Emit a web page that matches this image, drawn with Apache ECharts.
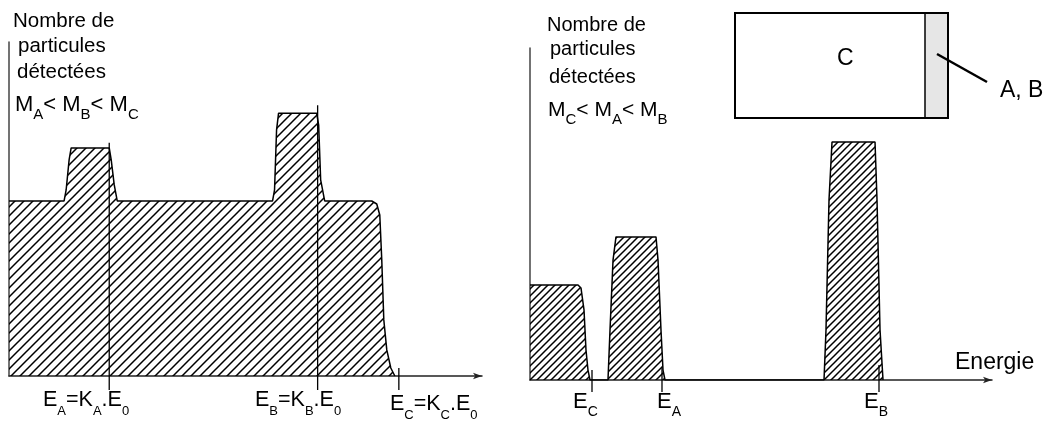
<!DOCTYPE html>
<html><head><meta charset="utf-8">
<script src="https://cdn.jsdelivr.net/npm/echarts@6/dist/echarts.min.js"></script>
<style>html,body{margin:0;background:#fff}#c{width:1051px;height:423px}</style>
</head><body><div id="c"></div>
<script>
// ---- data (arbitrary energy units 0..100, counts 0..100) ----
const leftEnergy = [0, 11.65, 12.08, 12.71, 13.14, 21.19, 21.61, 22.25, 22.88, 55.72, 56.14, 56.57, 56.99, 65.04, 65.47, 65.89, 66.74, 76.69, 77.75, 78.39, 78.81, 79.24, 79.87, 80.72, 81.57];
const leftCount  = [52.4, 52.4, 55.7, 64.7, 68.3, 68.3, 64.7, 57.2, 52.4, 52.4, 55.7, 73.7, 78.7, 78.7, 75.1, 58.7, 52.4, 52.4, 51.5, 48.2, 34.7, 16.8, 7.8, 2.4, 0];
const leftTickE   = [21.19, 65.25, 82.42];
const leftTickTop = [69.8, 81.1, 2.4];
const leftTickBottom = -4.2;

const rightEnergy = [0, 10.39, 11.04, 11.69, 12.12, 12.55, 12.99, 16.88, 17.32, 17.97, 18.61, 27.27, 27.71, 28.35, 28.79, 29.22, 63.64, 64.07, 64.72, 65.37, 74.68, 75.11, 75.76, 76.41];
const rightCount  = [28.6, 28.6, 27.7, 21.1, 9.0, 3.0, 0, 0, 15.1, 36.1, 43.1, 43.1, 36.1, 15.1, 3.0, 0, 0, 15.1, 54.2, 71.7, 71.7, 54.2, 15.1, 0];
const rightTickE   = [13.42, 28.57, 75.54];
const rightTickTop = [3.0, 3.9, 4.5];
const rightTickBottom = -3.6;

const FONT = "'Liberation Sans', Arial, sans-serif";

function hatch(step) {
  const c = document.createElement('canvas');
  c.width = step; c.height = step;
  const g = c.getContext('2d');
  g.strokeStyle = '#000'; g.lineWidth = 1.5; g.lineCap = 'butt';
  g.beginPath();
  g.moveTo(-1, step + 1); g.lineTo(step + 1, -1);
  g.moveTo(-1, 1); g.lineTo(1, -1);
  g.moveTo(step - 1, step + 1); g.lineTo(step + 1, step - 1);
  g.stroke();
  return { image: c, repeat: 'repeat' };
}

function pairs(xs, ys) { return xs.map((x, i) => [x, ys[i]]); }

function tickSeries(idx, xs, tops, bottom) {
  return xs.map((x, i) => ({
    type: 'line', xAxisIndex: idx, yAxisIndex: idx, clip: false, symbol: 'none',
    silent: true, z: 5,
    lineStyle: { color: '#000', width: 1.3 },
    data: [[x, bottom], [x, tops[i]]]
  }));
}

const mctx = document.createElement('canvas').getContext('2d');
function measure(t, size) { mctx.font = size + 'px ' + FONT; return mctx.measureText(t).width; }
function txt(x, cy, t, size) {
  return { type: 'text', x: x, y: cy, silent: true,
    style: { text: t, font: size + 'px ' + FONT, fill: '#000', align: 'left', verticalAlign: 'middle' } };
}
// parts alternate: main, sub, main, sub ...
function subLabel(x, cy, parts, main, sub, dy) {
  const els = []; let cx = x;
  parts.forEach((p, i) => {
    const isSub = i % 2 === 1, size = isSub ? sub : main;
    els.push(txt(cx, isSub ? cy + dy : cy, p, size));
    cx += measure(p, size);
  });
  return els;
}

const axisCommon = {
  type: 'value', min: 0, max: 100,
  axisTick: { show: false }, axisLabel: { show: false }, splitLine: { show: false }
};
const xLine = { lineStyle: { color: '#222', width: 1.5 }, symbol: ['none', 'arrow'], symbolSize: [5, 9] };
const yLine = { show: true, lineStyle: { color: '#444', width: 1.5 } };

const graphics = [
  txt(13, 21.5, 'Nombre de', 20.5), txt(18, 46, 'particules', 20.5), txt(17, 72, 'détectées', 20.5),
  txt(547, 25, 'Nombre de', 20), txt(550, 49, 'particules', 20), txt(549, 77, 'détectées', 20),
  txt(955, 363, 'Energie', 23),
  { type: 'rect', silent: true, shape: { x: 925, y: 13, width: 23, height: 105 }, style: { fill: '#e6e6e6', stroke: null } },
  { type: 'rect', silent: true, shape: { x: 735, y: 13, width: 213, height: 105 }, style: { fill: null, stroke: '#000', lineWidth: 2 } },
  { type: 'line', silent: true, shape: { x1: 925, y1: 13, x2: 925, y2: 118 }, style: { stroke: '#000', lineWidth: 1.5 } },
  { type: 'line', silent: true, shape: { x1: 937, y1: 54, x2: 987, y2: 82 }, style: { stroke: '#000', lineWidth: 2.5 } },
  txt(837, 59, 'C', 23),
  txt(1000, 91, 'A, B', 23)
].concat(
  subLabel(15, 105, ['M', 'A', '< M', 'B', '< M', 'C'], 22, 15, 9.5),
  subLabel(548, 110.5, ['M', 'C', '< M', 'A', '< M', 'B'], 21, 15, 9.5),
  subLabel(43, 400, ['E', 'A', '=K', 'A', '.E', '0'], 21.5, 13, 11),
  subLabel(255, 400, ['E', 'B', '=K', 'B', '.E', '0'], 21.5, 13, 11),
  subLabel(390, 404, ['E', 'C', '=K', 'C', '.E', '0'], 21.5, 13, 11),
  subLabel(573, 401.5, ['E', 'C'], 22, 14, 11),
  subLabel(657, 401.5, ['E', 'A'], 22, 14, 11),
  subLabel(864, 401.5, ['E', 'B'], 22, 14, 11)
);

const option = {
  animation: false,
  backgroundColor: '#fff',
  grid: [
    { left: 9, right: 569, top: 42, bottom: 47 },
    { left: 530, right: 59, top: 48, bottom: 43 }
  ],
  xAxis: [
    Object.assign({}, axisCommon, { gridIndex: 0, axisLine: xLine }),
    Object.assign({}, axisCommon, { gridIndex: 1, axisLine: xLine })
  ],
  yAxis: [
    Object.assign({}, axisCommon, { gridIndex: 0, axisLine: yLine }),
    Object.assign({}, axisCommon, { gridIndex: 1, axisLine: yLine })
  ],
  series: [
    { type: 'line', xAxisIndex: 0, yAxisIndex: 0, symbol: 'none', z: 3,
      lineStyle: { color: '#000', width: 1.5 },
      areaStyle: { color: hatch(9), opacity: 1 },
      data: pairs(leftEnergy, leftCount) },
    { type: 'line', xAxisIndex: 1, yAxisIndex: 1, symbol: 'none', z: 3,
      lineStyle: { color: '#000', width: 1.5 },
      areaStyle: { color: hatch(7), opacity: 1 },
      data: pairs(rightEnergy, rightCount) }
  ].concat(tickSeries(0, leftTickE, leftTickTop, leftTickBottom))
   .concat(tickSeries(1, rightTickE, rightTickTop, rightTickBottom)),
  graphic: graphics
};
const chart = echarts.init(document.getElementById('c'), null, { renderer: 'canvas' });
chart.setOption(option);
</script>
</body></html>
